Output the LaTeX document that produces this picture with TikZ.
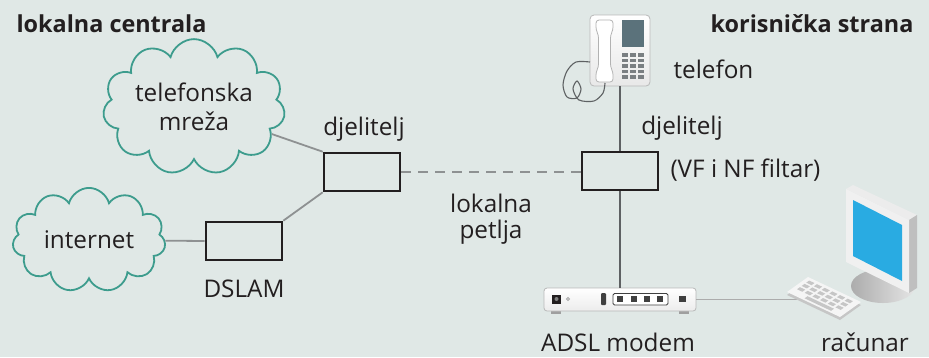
\documentclass[tikz,border=0pt]{standalone}
\usepackage{fontspec}
\setmainfont{Open Sans}
\usetikzlibrary{shapes.symbols}
\definecolor{bg}{HTML}{E0E8E6}
\definecolor{ink}{HTML}{231F20}
\definecolor{cloudline}{HTML}{3D9C8D}
\definecolor{wiregray}{HTML}{8E9192}
\definecolor{darkwire}{HTML}{5E6163}
\definecolor{phonescreen}{HTML}{5B727B}
\definecolor{lcd}{HTML}{29ABE2}
\definecolor{keygray}{HTML}{7A7F82}
\begin{document}
\begin{tikzpicture}[x=1pt, y=-1pt, font=\fontsize{24.3}{29}\selectfont, text=ink,
	net/.style={cloud, cloud puffs=11, aspect=1.6, draw=cloudline, line width=1.8pt, fill=bg, align=center, inner sep=0pt},
	splitter/.style={draw=ink, line width=2.6pt, minimum width=76pt, minimum height=38pt, inner sep=0pt},
	wire/.style={draw=wiregray, line width=1.8pt},
	line/.style={draw=darkwire, line width=1.6pt},
	title/.style={font=\fontsize{23.4}{29}\selectfont\bfseries}]
	\useasboundingbox[fill=bg] (0,0) rectangle (929,357);
	\node[title, anchor=base west] (lc) at (13,32) {lokalna centrala};
	\node[title, anchor=base east] (ks) at (917,32) {korisnička strana};
	\node[net, minimum width=176pt, minimum height=114pt] (tmreza) at (194,107) {telefonska\\mreža};
	\node[net, minimum width=153pt, minimum height=100pt] (inet) at (89,240) {internet};
	\node[splitter] (split1) at (362,172) {};
	\node[splitter] (dslam) at (244,241) {};
	\node[splitter] (split2) at (620,171) {};
	\node[anchor=base] at (364,135) {djelitelj};
	\node[anchor=base] at (244,297) {DSLAM};
	\node[align=center, font=\fontsize{24.3}{25.5}\selectfont] at (491,219) {lokalna\\petlja};
	\draw[wire] (tmreza) -- (split1.north west);
	\draw[wire] (dslam.north east) -- (split1.south west);
	\draw[wire] (dslam.west) -- (inet);
	\draw[wire, dash pattern=on 10pt off 7pt] (split1.east) -- (split1.east -| split2.west);
	\node[draw=gray!55, line width=0.8pt, rounded corners=4pt, top color=white, bottom color=gray!18, minimum width=60pt, minimum height=71pt] (phone) at (620,50.5) {};
	\fill[phonescreen] (622,20) rectangle (644,47);
	\foreach \r in {0,...,4}
		\foreach \c in {0,1,2}
			\fill[keygray] (622+\c*8,53+\r*5.5) rectangle ++(6,3.8);
	\draw[draw=gray!60, fill=white, rounded corners=3pt, line width=0.8pt] (596,20) -- (613,20) -- (613,30) -- (610.5,35) -- (610.5,67) -- (613,72) -- (613,82) -- (596,82) -- (596,72) -- (598.5,67) -- (598.5,35) -- (596,30) -- cycle;
	\draw[darkwire, line width=1.1pt] plot[smooth] coordinates {(590,62) (576,62) (567,71) (563,85) (567,97) (577,98) (581,89) (577,81) (573,89) (579,100) (594,101) (603,93) (605,83)};
	\node[anchor=base west] at (670,78) {telefon};
	\node[anchor=base] at (682,134) {djelitelj};
	\node[anchor=base west] at (667,177) {(VF i NF filtar)};
	\fill[gray!75] (551,309) rectangle (561,313.5);
	\fill[gray!75] (679,309) rectangle (689,313.5);
	\node[draw=gray!55, line width=0.8pt, rounded corners=3pt, top color=white, bottom color=gray!15, minimum width=152pt, minimum height=23pt, inner sep=0pt] (modem) at (620,299.5) {};
	\fill[ink] (552,294.5) rectangle (561,303.5);
	\fill[gray] (556.5,299) circle (2);
	\draw[gray!70, line width=0.8pt] (568,299) circle (1.5);
	\fill[darkgray, rounded corners=1pt] (601,293) rectangle (606,305);
	\draw[darkgray, fill=white, rounded corners=1.5pt, line width=0.8pt] (613,293.5) rectangle (668,305);
	\foreach \x in {617,631,644,657}
		\fill[darkgray] (\x,296) rectangle ++(6,5.5);
	\fill[darkgray] (679,296) rectangle (686,302);
	\draw[line] (phone.south) -- (split2.north);
	\draw[line] (split2.south) -- (modem.north);
	\coordinate (pc) at (800,299.5);
	\draw[line, draw=gray!65] (modem.east) -- (pc);
	\node[anchor=base] at (618,351) {ADSL modem};
	\node[anchor=base] at (865,351) {računar};
	\fill[gray!50] (875,268) -- (896,278) -- (896,292) -- (875,283) -- cycle;
	\shade[left color=gray!65, right color=gray!20] (883,286) ellipse (32 and 17);
	\fill[gray!15] (846,189) -- (853,185) -- (917,215) -- (909,220) -- cycle;
	\fill[gray!50] (909,220) -- (917,215) -- (917,288) -- (909,293) -- cycle;
	\fill[gray!12] (846,189) -- (909,220) -- (909,293) -- (846,262) -- cycle;
	\fill[lcd] (853,200) -- (902,225) -- (902,281) -- (853,256) -- cycle;
	\begin{scope}[shift={(787,295)}, x={(53pt,-25pt)}, y={(21pt,15pt)}]
		\fill[gray!45] (0,0) -- (1,0) -- (1,1) -- (0,1) -- cycle;
		\fill[gray!8, yshift=3pt] (0,0) -- (1,0) -- (1,1) -- (0,1) -- cycle;
		\foreach \i in {0,...,5}
			\foreach \j in {1,2,3}
				\fill[gray!45, yshift=3pt] (0.07+\i*0.145,0.08+\j*0.22) -- ++(0.1,0) -- ++(0,0.14) -- ++(-0.1,0) -- cycle;
		\fill[gray!45, yshift=3pt] (0.3,0.08) -- ++(0.5,0) -- ++(0,0.14) -- ++(-0.5,0) -- cycle;
	\end{scope}
\end{tikzpicture}
\end{document}
